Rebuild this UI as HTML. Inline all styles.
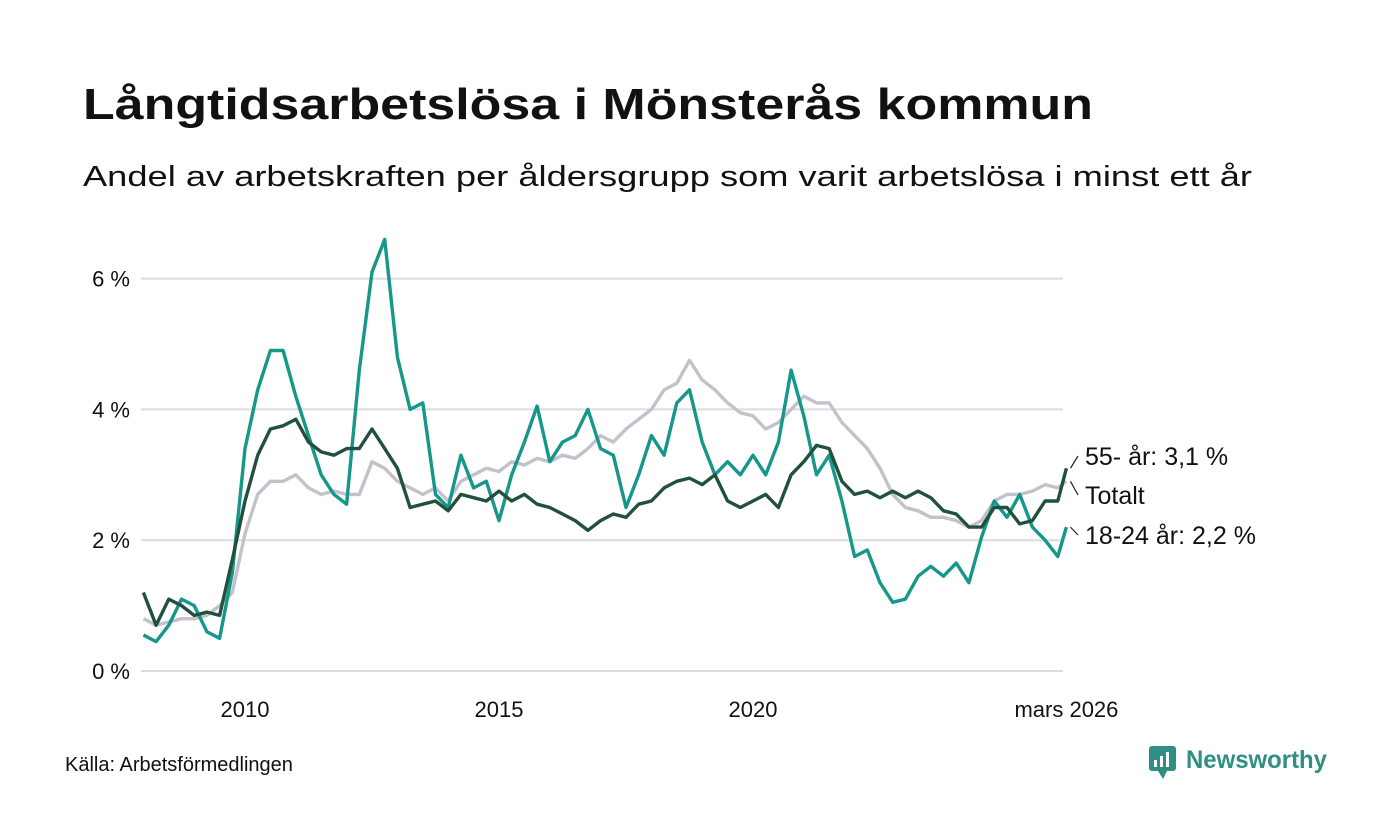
<!DOCTYPE html>
<html><head><meta charset="utf-8"><style>
html,body{margin:0;padding:0;background:#fff}
svg{display:block;font-family:"Liberation Sans","DejaVu Sans",sans-serif}
</style></head><body>
<svg width="1400" height="840" viewBox="0 0 1400 840" id="chart">
<text x="83" y="119" font-size="44" font-weight="bold" fill="#111" textLength="1010" lengthAdjust="spacingAndGlyphs">Långtidsarbetslösa i Mönsterås kommun</text>
<text x="83" y="186" font-size="29" fill="#111" textLength="1169" lengthAdjust="spacingAndGlyphs">Andel av arbetskraften per åldersgrupp som varit arbetslösa i minst ett år</text>
<g id="grid"></g>
<g id="series"></g>
<g id="labels"></g>
<text x="65" y="771" font-size="20" fill="#111">Källa: Arbetsförmedlingen</text>
<g>
<rect x="1149" y="746" width="27" height="25" rx="3" fill="#2f8f83"/>
<polygon points="1158,771 1163,779 1167,771" fill="#2f8f83"/>
<rect x="1154" y="760" width="3" height="7" fill="#fff"/><rect x="1160" y="756" width="3" height="11" fill="#fff"/><rect x="1166" y="752" width="3" height="15" fill="#fff"/>
<text x="1186" y="768" font-size="25" font-weight="bold" fill="#2f8f83" textLength="141" lengthAdjust="spacingAndGlyphs">Newsworthy</text>
</g>
</svg>
<script>
const dates=[2008,2008.25,2008.5,2008.75,2009,2009.25,2009.5,2009.75,2010,2010.25,2010.5,2010.75,2011,2011.25,2011.5,2011.75,2012,2012.25,2012.5,2012.75,2013,2013.25,2013.5,2013.75,2014,2014.25,2014.5,2014.75,2015,2015.25,2015.5,2015.75,2016,2016.25,2016.5,2016.75,2017,2017.25,2017.5,2017.75,2018,2018.25,2018.5,2018.75,2019,2019.25,2019.5,2019.75,2020,2020.25,2020.5,2020.75,2021,2021.25,2021.5,2021.75,2022,2022.25,2022.5,2022.75,2023,2023.25,2023.5,2023.75,2024,2024.25,2024.5,2024.75,2025,2025.25,2025.5,2025.75,2026,2026.17];
const old55=[0.8,0.7,0.75,0.8,0.8,0.85,1.0,1.2,2.1,2.7,2.9,2.9,3.0,2.8,2.7,2.75,2.7,2.7,3.2,3.1,2.9,2.8,2.7,2.8,2.6,2.9,3.0,3.1,3.05,3.2,3.15,3.25,3.2,3.3,3.25,3.4,3.6,3.5,3.7,3.85,4.0,4.3,4.4,4.75,4.45,4.3,4.1,3.95,3.9,3.7,3.8,4.0,4.2,4.1,4.1,3.8,3.6,3.4,3.1,2.7,2.5,2.45,2.35,2.35,2.3,2.2,2.3,2.6,2.7,2.7,2.75,2.85,2.8,2.9];
const youth=[0.55,0.45,0.7,1.1,1.0,0.6,0.5,1.5,3.4,4.3,4.9,4.9,4.2,3.6,3.0,2.7,2.55,4.6,6.1,6.6,4.8,4.0,4.1,2.7,2.5,3.3,2.8,2.9,2.3,3.0,3.5,4.05,3.2,3.5,3.6,4.0,3.4,3.3,2.5,3.0,3.6,3.3,4.1,4.3,3.5,3.0,3.2,3.0,3.3,3.0,3.5,4.6,3.9,3.0,3.3,2.6,1.75,1.85,1.35,1.05,1.1,1.45,1.6,1.45,1.65,1.35,2.05,2.6,2.35,2.7,2.2,2.0,1.75,2.2];
const total=[1.2,0.7,1.1,1.0,0.85,0.9,0.85,1.7,2.6,3.3,3.7,3.75,3.85,3.5,3.35,3.3,3.4,3.4,3.7,3.4,3.1,2.5,2.55,2.6,2.45,2.7,2.65,2.6,2.75,2.6,2.7,2.55,2.5,2.4,2.3,2.15,2.3,2.4,2.35,2.55,2.6,2.8,2.9,2.95,2.85,3.0,2.6,2.5,2.6,2.7,2.5,3.0,3.2,3.45,3.4,2.9,2.7,2.75,2.65,2.75,2.65,2.75,2.65,2.45,2.4,2.2,2.2,2.5,2.5,2.25,2.3,2.6,2.6,3.1];
const yTicks=[0,2,4,6];
const yTickLabels=["0 %","2 %","4 %","6 %"];
const xTicks=[2010,2015,2020,2026.17];
const xTickLabels=["2010","2015","2020","mars 2026"];
const NS="http://www.w3.org/2000/svg";
const X=t=>245+(t-2010)*50.8;
const Y=v=>671-v*65.4;
function mk(tag,attrs,parent){const e=document.createElementNS(NS,tag);for(const k in attrs)e.setAttribute(k,attrs[k]);parent.appendChild(e);return e;}
const grid=document.getElementById('grid');
yTicks.forEach((v,i)=>{
 const l=mk('line',{x1:141,x2:1063,y1:Y(v),y2:Y(v),stroke:'#dcdce0','stroke-width':2},grid);
 
 
 const t=mk('text',{x:130,y:Y(v)+8,'font-size':22,'text-anchor':'end',fill:'#111'},grid);
 t.textContent=yTickLabels[i];
 
 
});
xTicks.forEach((v,i)=>{
 const t=mk('text',{x:X(v),y:717,'font-size':22,'text-anchor':'middle',fill:'#111'},grid);
 t.textContent=xTickLabels[i];
 
 
});
const ser=document.getElementById('series');
function line(vals,color,name){
 const d=vals.map((v,i)=>(i?'L':'M')+X(dates[i]).toFixed(1)+','+Y(v).toFixed(1)).join('');
 const p=mk('path',{d:d,fill:'none',stroke:color,'stroke-width':3.4,'stroke-linejoin':'round'},ser);
 
 
}
line(old55,'#c3c1cb','line-55-plus');
line(youth,'#16978a','line-18-24');
line(total,'#21503f','line-total');
const lab=document.getElementById('labels');
const last=dates.length-1;
const ends=[[total[last],465,'55- år: 3,1 %','label-55-plus'],[old55[last],504,'Totalt','label-total'],[youth[last],544,'18-24 år: 2,2 %','label-18-24']];
ends.forEach(e=>{
 mk('line',{x1:X(dates[last])+4,y1:Y(e[0]),x2:1078,y2:e[1]-9,stroke:'#222','stroke-width':1.2},lab);
 const t=mk('text',{x:1085,y:e[1],'font-size':25,fill:'#111'},lab);
 t.textContent=e[2];
 
 
});
</script>
</body></html>
